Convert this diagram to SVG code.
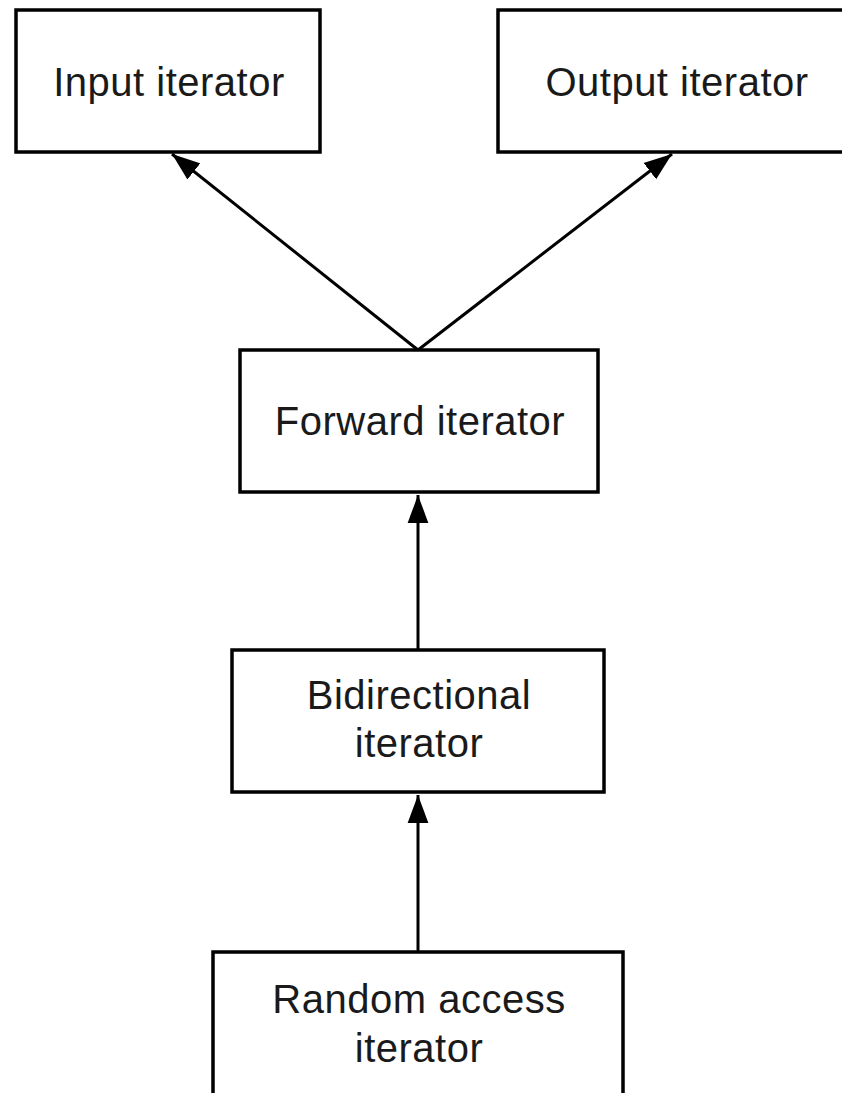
<svg xmlns="http://www.w3.org/2000/svg" width="842" height="1093" viewBox="0 0 842 1093">
  <style>
    .box { fill: #ffffff; stroke: #000000; stroke-width: 3.5; }
    .lbl { font-family: "Liberation Sans", Arial, sans-serif; font-size: 40px; letter-spacing: 0.5px; fill: #1a1a1a; text-anchor: middle; }
    .edge { stroke: #000000; stroke-width: 3; fill: none; marker-end: url(#arrow); }
  </style>
  <defs>
    <marker id="arrow" markerUnits="userSpaceOnUse" markerWidth="28" markerHeight="22" viewBox="0 0 27 20" refX="27" refY="10" orient="auto">
      <path d="M0,0 L27,10 L0,20 Z" fill="#000000"/>
    </marker>
  </defs>
  <rect width="842" height="1093" fill="#ffffff"/>
  <g id="connectors">
    <line class="edge" x1="418" y1="350" x2="172" y2="154"/>
    <line class="edge" x1="418" y1="350" x2="672" y2="154"/>
    <line class="edge" x1="418" y1="650" x2="418" y2="495"/>
    <line class="edge" x1="418" y1="952" x2="418" y2="795"/>
  </g>
  <g id="input">
    <rect class="box" x="16" y="10" width="304" height="142"/>
    <text class="lbl" x="169" y="96">Input iterator</text>
  </g>
  <g id="output">
    <rect class="box" x="498" y="10" width="360" height="142"/>
    <text class="lbl" x="677" y="96">Output iterator</text>
  </g>
  <g id="forward">
    <rect class="box" x="240" y="350" width="358" height="142"/>
    <text class="lbl" x="420" y="435">Forward iterator</text>
  </g>
  <g id="bidirectional">
    <rect class="box" x="232" y="650" width="372" height="142"/>
    <text class="lbl" x="419" y="709">Bidirectional</text>
    <text class="lbl" x="419" y="757">iterator</text>
  </g>
  <g id="random">
    <rect class="box" x="213" y="952" width="410" height="160"/>
    <text class="lbl" x="419" y="1013">Random access</text>
    <text class="lbl" x="419" y="1062">iterator</text>
  </g>
</svg>
